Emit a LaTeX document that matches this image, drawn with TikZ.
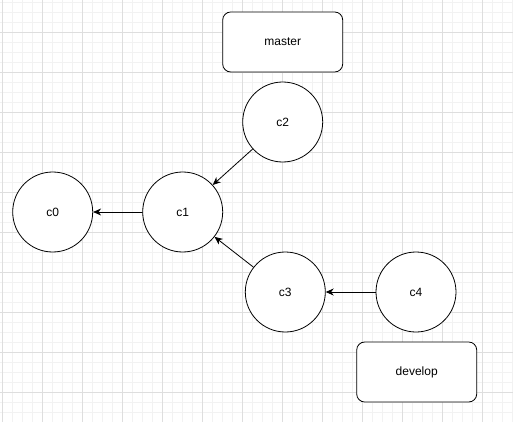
\documentclass[tikz,border=0pt]{standalone}
\usepackage{fontspec}
\setmainfont{Liberation Sans}
\usetikzlibrary{arrows.meta}

\begin{document}
\begin{tikzpicture}[x=1pt,y=-1pt,>={Stealth[length=8pt,width=7pt]},
    line cap=round,line join=round,
    minorgrid/.style={draw=black!5,line width=.5pt},
    majorgrid/.style={draw=black!13,line width=.7pt},
    commit/.style={draw,circle,minimum size=80pt,inner sep=0pt,
      line width=.8pt,fill=white,font=\fontsize{12}{14}\selectfont},
    branch/.style={draw,rounded corners=8pt,minimum width=120pt,
      minimum height=60pt,line width=.8pt,fill=white,
      font=\fontsize{12}{14}\selectfont},
    link/.style={->,line width=.8pt}]
    \useasboundingbox (0,0) rectangle (513,422);
    \fill[white] (0,0) rectangle (513,422);

    % Grid.
    \foreach \x in {2.7,12.7,...,512.7}
      \draw[minorgrid] (\x,0) -- (\x,422);
    \foreach \y in {2,12,...,422}
      \draw[minorgrid] (0,\y) -- (513,\y);
    \foreach \x in {2.7,42.7,...,512.7}
      \draw[majorgrid] (\x,0) -- (\x,422);
    \foreach \y in {32,72,...,422}
      \draw[majorgrid] (0,\y) -- (513,\y);

    % Commits.
    \node[commit] (c0) at (52.7,212) {c0};
    \node[commit] (c1) at (182.7,212) {c1};
    \node[commit] (c2) at (282.7,122) {c2};
    \node[commit] (c3) at (285.3,292) {c3};
    \node[commit] (c4) at (416,292) {c4};

    % Branch labels.
    \node[branch] (master) at (282.7,42) {master};
    \node[branch] (develop) at (416.7,372) {develop};

    \draw[link] (c1) -- (c0);
    \draw[link] (c2) -- (c1);
    \draw[link] (c3) -- (c1);
    \draw[link] (c4) -- (c3);
\end{tikzpicture}
\end{document}
